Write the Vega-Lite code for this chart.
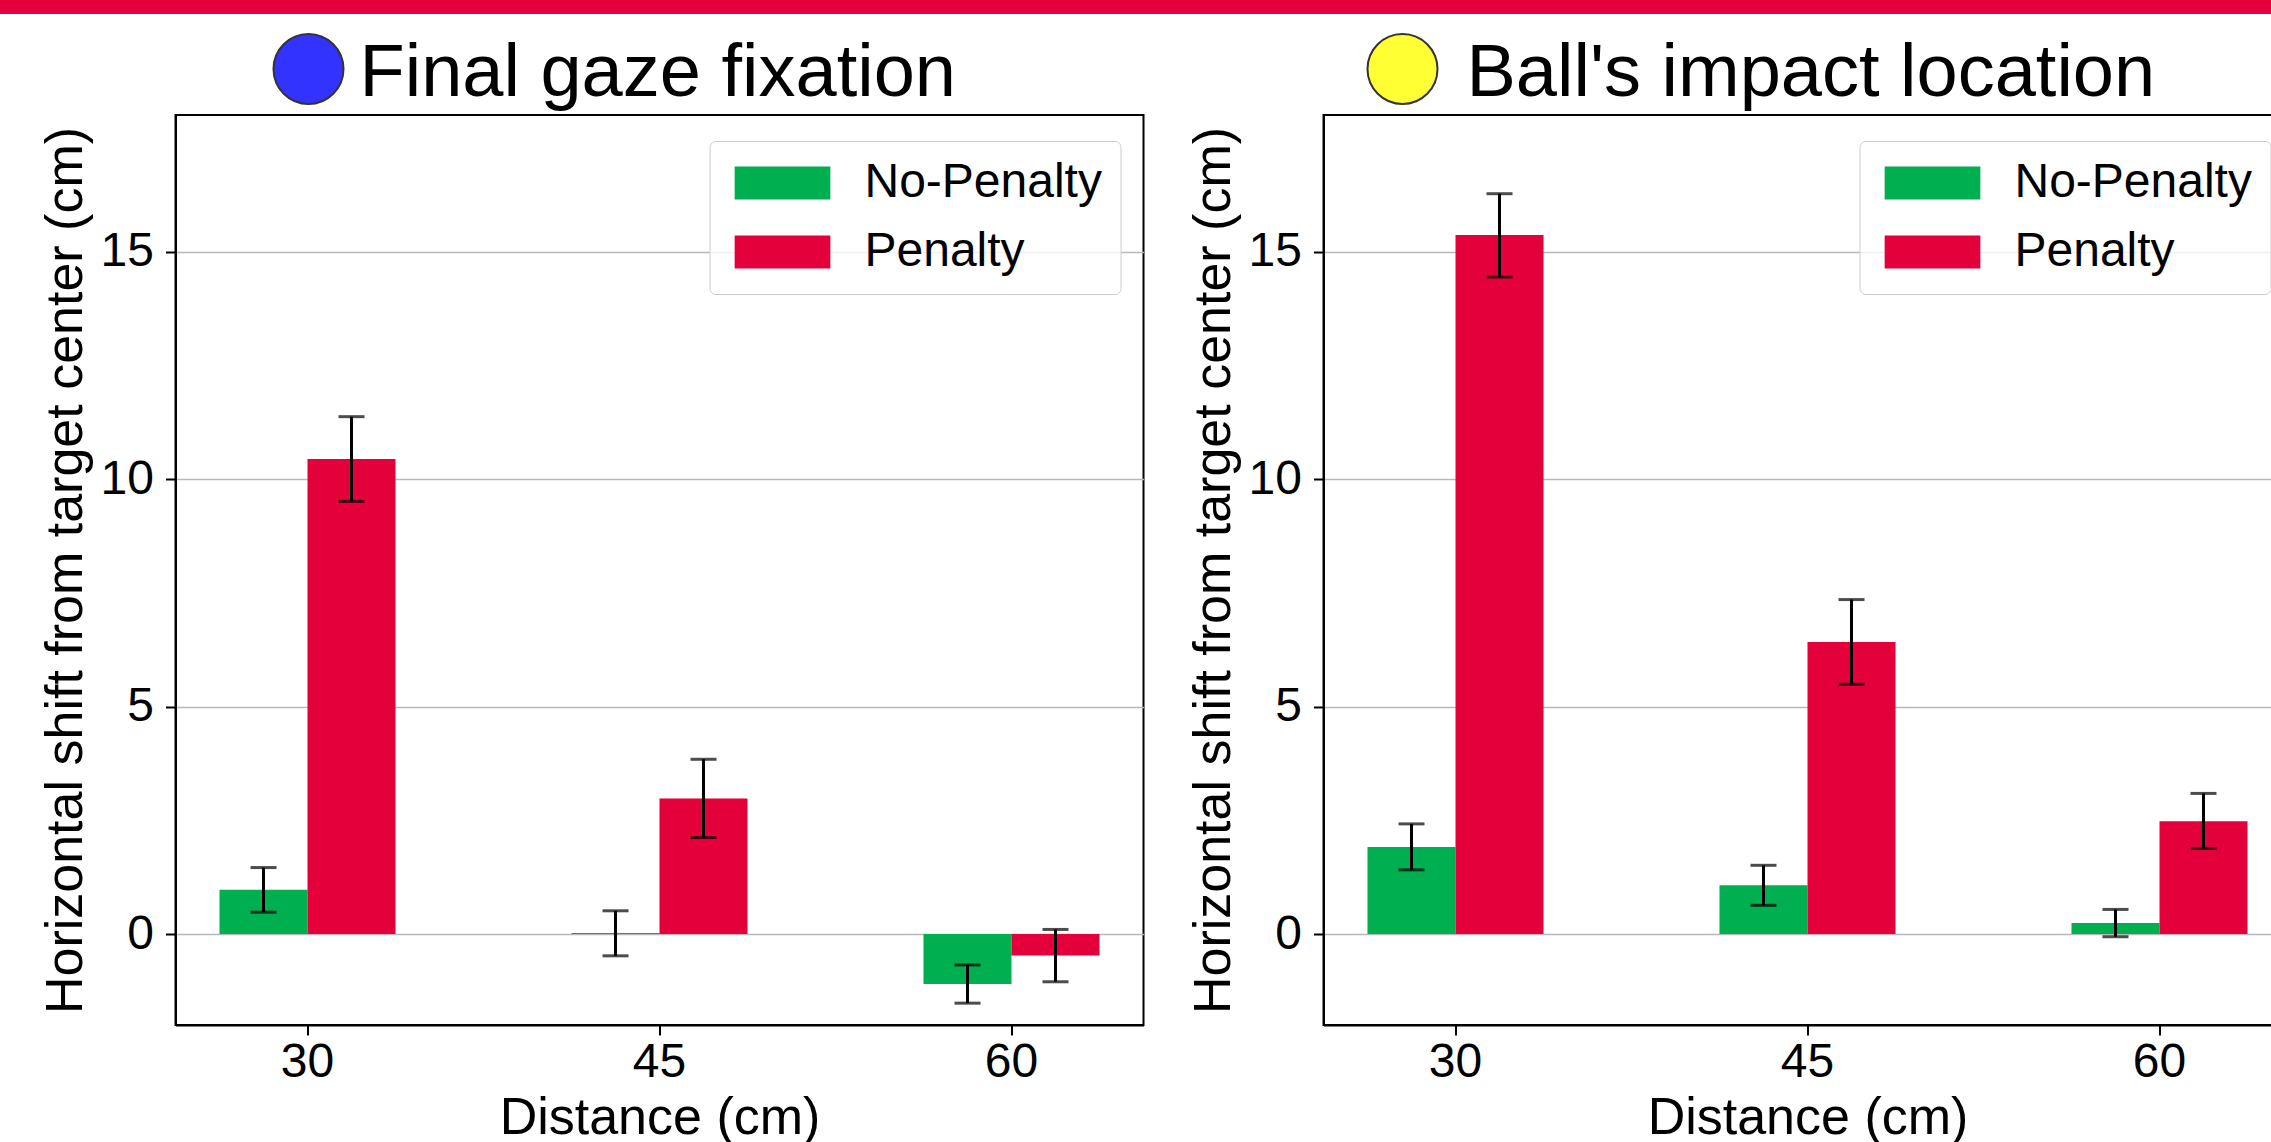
{
  "$schema": "https://vega.github.io/schema/vega-lite/v6.json",
  "padding": 0,
  "background": "white",
  "spacing": 22,
  "center": true,
  "config": {
    "font": "Liberation Sans",
    "view": {"stroke": "black", "strokeWidth": 2},
    "axis": {
      "labelFont": "Liberation Sans", "titleFont": "Liberation Sans",
      "labelFontSize": 48, "titleFontSize": 52, "titleFontWeight": "normal",
      "labelColor": "black", "titleColor": "black",
      "tickColor": "black", "domainColor": "black", "domainWidth": 2, "tickWidth": 2, "tickSize": 10,
      "gridColor": "#b8b8b8", "gridWidth": 1.5
    },
    "legend": {"labelFont": "Liberation Sans", "labelColor": "black"}
  },
  "datasets": {
    "bars": [
      {"Measure": "Final gaze fixation", "Distance": "30", "Condition": "No-Penalty", "Mean": 0.97, "Lower": 0.48, "Upper": 1.46},
      {"Measure": "Final gaze fixation", "Distance": "30", "Condition": "Penalty", "Mean": 10.44, "Lower": 9.51, "Upper": 11.37},
      {"Measure": "Final gaze fixation", "Distance": "45", "Condition": "No-Penalty", "Mean": 0.02, "Lower": -0.48, "Upper": 0.51},
      {"Measure": "Final gaze fixation", "Distance": "45", "Condition": "Penalty", "Mean": 2.98, "Lower": 2.12, "Upper": 3.84},
      {"Measure": "Final gaze fixation", "Distance": "60", "Condition": "No-Penalty", "Mean": -1.10, "Lower": -1.52, "Upper": -0.68},
      {"Measure": "Final gaze fixation", "Distance": "60", "Condition": "Penalty", "Mean": -0.47, "Lower": -1.05, "Upper": 0.10},
      {"Measure": "Ball's impact location", "Distance": "30", "Condition": "No-Penalty", "Mean": 1.91, "Lower": 1.41, "Upper": 2.42},
      {"Measure": "Ball's impact location", "Distance": "30", "Condition": "Penalty", "Mean": 15.36, "Lower": 14.44, "Upper": 16.27},
      {"Measure": "Ball's impact location", "Distance": "45", "Condition": "No-Penalty", "Mean": 1.07, "Lower": 0.63, "Upper": 1.51},
      {"Measure": "Ball's impact location", "Distance": "45", "Condition": "Penalty", "Mean": 6.42, "Lower": 5.49, "Upper": 7.35},
      {"Measure": "Ball's impact location", "Distance": "60", "Condition": "No-Penalty", "Mean": 0.24, "Lower": -0.06, "Upper": 0.54},
      {"Measure": "Ball's impact location", "Distance": "60", "Condition": "Penalty", "Mean": 2.48, "Lower": 1.88, "Upper": 3.09}
    ]
  },
  "vconcat": [
    {
      "width": 2468, "height": 14,
      "data": {"values": [{}]},
      "mark": {"type": "rect", "color": "#E3003B"},
      "encoding": {},
      "view": {"stroke": null, "fill": "#E3003B"}
    },
    {
      "spacing": 41,
      "resolve": {"scale": {"color": "independent", "fill": "independent"}, "legend": {"color": "independent", "fill": "independent"}},
      "hconcat": [
        {
          "width": 968, "height": 910,
          "layer": [
            {
              "data": {"name": "bars"},
              "transform": [{"filter": "datum.Measure === 'Final gaze fixation'"}],
              "encoding": {
                "x": {"field": "Distance", "type": "nominal", "title": "Distance (cm)",
                      "scale": {"domain": ["30", "45", "60"], "paddingInner": 0.5, "paddingOuter": 0.125},
                      "axis": {"labelAngle": 0, "labelPadding": 3, "titlePadding": 6, "grid": false}},
                "xOffset": {"field": "Condition", "type": "nominal", "scale": {"domain": ["No-Penalty", "Penalty"], "paddingInner": 0, "paddingOuter": 0}}
              },
              "layer": [
                {
                  "mark": {"type": "bar"},
                  "encoding": {
                    "y": {"field": "Mean", "type": "quantitative", "title": ["", "Horizontal shift from target center (cm)"],
                          "scale": {"domain": [-2, 18], "nice": false, "zero": false},
                          "axis": {"values": [0, 5, 10, 15], "grid": true, "labelPadding": 12, "titlePadding": 8, "titleLineHeight": 37}},
                    "y2": {"datum": 0},
                    "color": {"field": "Condition", "type": "nominal",
                              "scale": {"domain": ["No-Penalty", "Penalty"], "range": ["#00B050", "#E3003B"]},
                              "legend": {"title": null, "orient": "none", "legendX": 534, "legendY": 26, "padding": 18,
                                         "fillColor": "rgba(255,255,255,0.8)", "strokeColor": "#cccccc", "cornerRadius": 6,
                                         "labelFontSize": 48, "labelLimit": 0,
                                         "symbolType": "M-2.9,-1H2.9V1H-2.9Z", "symbolSize": 1089, "symbolStrokeWidth": 0,
                                         "symbolOffset": 31, "labelOffset": 58, "rowPadding": 21}}
                  }
                },
                {
                  "mark": {"type": "rule", "color": "black", "strokeWidth": 3},
                  "encoding": {"y": {"field": "Lower", "type": "quantitative"}, "y2": {"field": "Upper"}}
                },
                {
                  "mark": {"type": "tick", "color": "black", "size": 26, "thickness": 3},
                  "encoding": {"y": {"field": "Lower", "type": "quantitative"}}
                },
                {
                  "mark": {"type": "tick", "color": "black", "size": 26, "thickness": 3},
                  "encoding": {"y": {"field": "Upper", "type": "quantitative"}}
                }
              ]
            },
            {
              "data": {"values": [{"Panel": "Final gaze fixation"}]},
              "mark": {"type": "point", "opacity": 0, "filled": true},
              "encoding": {
                "fill": {"field": "Panel", "type": "nominal", "scale": {"range": ["#3333FF"]},
                         "legend": {"title": null, "orient": "none", "legendX": 96, "legendY": -78, "padding": 0,
                                    "labelFontSize": 74, "labelLimit": 0, "labelOffset": 14,
                                    "symbolType": "M-1,-0.143A1,1,0,1,1,1,-0.143A1,1,0,1,1,-1,-0.143Z", "symbolSize": 4900,
                                    "symbolStrokeColor": "#333333", "symbolStrokeWidth": 2, "symbolOpacity": 1}}
              }
            }
          ]
        },
        {
          "width": 968, "height": 910,
          "layer": [
            {
              "data": {"name": "bars"},
              "transform": [{"filter": "datum.Measure !== 'Final gaze fixation'"}],
              "encoding": {
                "x": {"field": "Distance", "type": "nominal", "title": "Distance (cm)",
                      "scale": {"domain": ["30", "45", "60"], "paddingInner": 0.5, "paddingOuter": 0.125},
                      "axis": {"labelAngle": 0, "labelPadding": 3, "titlePadding": 6, "grid": false}},
                "xOffset": {"field": "Condition", "type": "nominal", "scale": {"domain": ["No-Penalty", "Penalty"], "paddingInner": 0, "paddingOuter": 0}}
              },
              "layer": [
                {
                  "mark": {"type": "bar"},
                  "encoding": {
                    "y": {"field": "Mean", "type": "quantitative", "title": "Horizontal shift from target center (cm)",
                          "scale": {"domain": [-2, 18], "nice": false, "zero": false},
                          "axis": {"values": [0, 5, 10, 15], "grid": true, "labelPadding": 12, "titlePadding": 8}},
                    "y2": {"datum": 0},
                    "color": {"field": "Condition", "type": "nominal",
                              "scale": {"domain": ["No-Penalty", "Penalty"], "range": ["#00B050", "#E3003B"]},
                              "legend": {"title": null, "orient": "none", "legendX": 536, "legendY": 26, "padding": 18,
                                         "fillColor": "rgba(255,255,255,0.8)", "strokeColor": "#cccccc", "cornerRadius": 6,
                                         "labelFontSize": 48, "labelLimit": 0,
                                         "symbolType": "M-2.9,-1H2.9V1H-2.9Z", "symbolSize": 1089, "symbolStrokeWidth": 0,
                                         "symbolOffset": 31, "labelOffset": 58, "rowPadding": 21}}
                  }
                },
                {
                  "mark": {"type": "rule", "color": "black", "strokeWidth": 3},
                  "encoding": {"y": {"field": "Lower", "type": "quantitative"}, "y2": {"field": "Upper"}}
                },
                {
                  "mark": {"type": "tick", "color": "black", "size": 26, "thickness": 3},
                  "encoding": {"y": {"field": "Lower", "type": "quantitative"}}
                },
                {
                  "mark": {"type": "tick", "color": "black", "size": 26, "thickness": 3},
                  "encoding": {"y": {"field": "Upper", "type": "quantitative"}}
                }
              ]
            },
            {
              "data": {"values": [{"Panel": "Ball's impact location"}]},
              "mark": {"type": "point", "opacity": 0, "filled": true},
              "encoding": {
                "fill": {"field": "Panel", "type": "nominal", "scale": {"range": ["#FFFF33"]},
                         "legend": {"title": null, "orient": "none", "legendX": 42, "legendY": -78, "padding": 0,
                                    "labelFontSize": 74, "labelLimit": 0, "labelOffset": 27,
                                    "symbolType": "M-1,-0.143A1,1,0,1,1,1,-0.143A1,1,0,1,1,-1,-0.143Z", "symbolSize": 4900,
                                    "symbolStrokeColor": "#333333", "symbolStrokeWidth": 2, "symbolOpacity": 1}}
              }
            }
          ]
        }
      ]
    }
  ]
}
